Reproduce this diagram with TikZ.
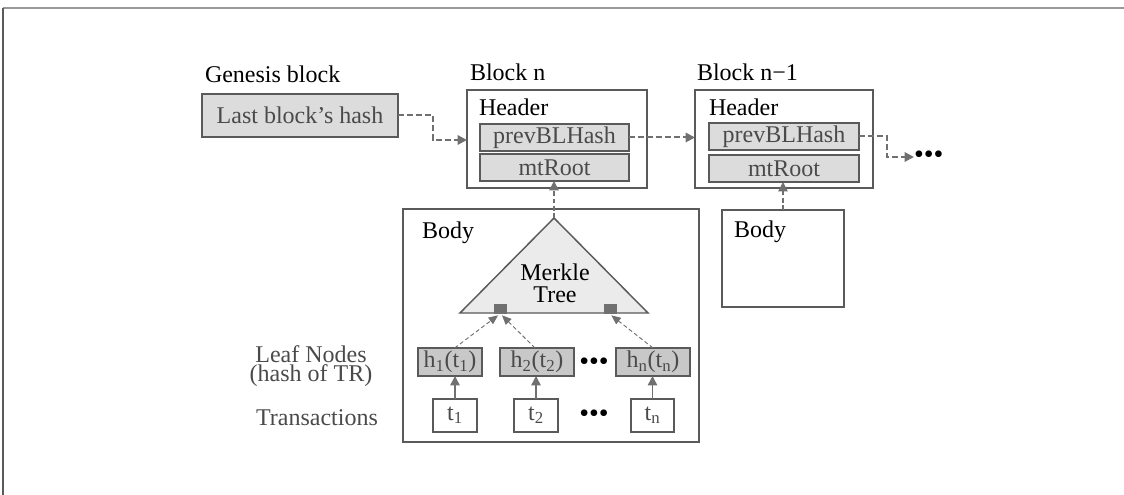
\documentclass[tikz,border=0pt]{standalone}
\usepackage{fontspec}
\setmainfont{Liberation Serif}
\usetikzlibrary{arrows.meta,calc}
\definecolor{edgegray}{HTML}{5A5A5A}
\definecolor{arrowgray}{HTML}{707070}
\definecolor{txtgray}{HTML}{4A4A4A}
\definecolor{boxfill}{HTML}{DCDCDC}
\definecolor{leaffill}{HTML}{C8C8C8}
\definecolor{trifill}{HTML}{EBEBEB}
\tikzset{
  every node/.style={inner sep=0pt, outer sep=0pt},
  basefont/.style={font=\fontsize{18}{18}\selectfont},
  title/.style={basefont, text=black},
  graybox/.style={draw=edgegray, line width=1.1pt, fill=boxfill, basefont, text=txtgray},
  leafbox/.style={draw=edgegray, line width=1.1pt, fill=leaffill, basefont, text=txtgray, minimum height=28*0.75pt},
  trbox/.style={draw=edgegray, line width=1.1pt, fill=white, basefont, text=txtgray, minimum height=33*0.75pt},
  frame/.style={draw=edgegray, line width=1.1pt},
  sidelabel/.style={basefont, text=txtgray, align=center},
  dotsnode/.style={font=\fontsize{21}{21}\selectfont, text=black},
  chain/.style={draw=arrowgray, line width=1.5pt, dash pattern=on 4.5pt off 2.2pt, -{Triangle[length=7pt,width=7pt]}},
  uparrow/.style={draw=arrowgray, line width=1.1pt, dash pattern=on 3.5pt off 2pt, -{Triangle[length=7pt,width=7pt]}},
  treearrow/.style={draw=arrowgray, line width=0.7pt, dash pattern=on 3pt off 2pt, -{Triangle[length=7pt,width=6pt]}},
  solidarrow/.style={draw=arrowgray, line width=1.1pt, -{Triangle[length=7pt,width=7pt]}},
  sq/.style={fill=arrowgray, minimum width=13*0.75pt, minimum height=10*0.75pt}
}
\begin{document}
\begin{tikzpicture}[x=0.75pt,y=-0.75pt]
\useasboundingbox (0,0) rectangle (1124,495);
% outer frame fragments
\draw[draw=gray!80, line width=1.5pt] (3,8) -- (1124,8);
\draw[draw=edgegray, line width=1pt] (3,8) -- (3,495);

% titles
\node[title, anchor=base west] (gen) at (205,83) {Genesis block};
\node[title, anchor=base west] (bn) at (470,81) {Block n};
\node[title, anchor=base west] (bn1) at (697,81) {Block n−1};

% genesis hash
\node[graybox, minimum width=196*0.75pt, minimum height=43*0.75pt] (lbh) at (300,115.5) {Last block’s hash};

% Block n header
\node[frame, fill=white, minimum width=180*0.75pt, minimum height=98*0.75pt] (hdrN) at (557,139) {};
\node[title, anchor=base west] (hN) at (479,116) {Header};
\node[graybox, minimum width=149*0.75pt, minimum height=27*0.75pt] (prevN) at (554.5,137.5) {prevBLHash};
\node[graybox, minimum width=149*0.75pt, minimum height=27*0.75pt] (mtN) at (554.5,167.5) {mtRoot};

% Block n-1 header
\node[frame, fill=white, minimum width=178*0.75pt, minimum height=98*0.75pt] (hdrN1) at (784,139) {};
\node[title, anchor=base west] (hN1) at (709,116) {Header};
\node[graybox, minimum width=150*0.75pt, minimum height=27*0.75pt] (prevN1) at (784,136.5) {prevBLHash};
\node[graybox, minimum width=150*0.75pt, minimum height=27*0.75pt] (mtN1) at (784,168.5) {mtRoot};
\node[dotsnode, anchor=west] (dots1) at (914,157) {•••};

% Block n-1 body
\node[frame, fill=white, minimum width=122*0.75pt, minimum height=97*0.75pt] (bodyN1) at (783,258.5) {};
\node[title, anchor=base west] (bdN1) at (734,238) {Body};

% Block n body
\node[frame, fill=white, minimum width=296*0.75pt, minimum height=233*0.75pt] (bodyN) at (551,325.5) {};
\node[title, anchor=base west] (bdN) at (422,239) {Body};

% Merkle tree
\coordinate (apex) at (554,218);
\draw[draw=edgegray, line width=1.1pt, fill=trifill] (460,313) -- (648,313) -- (apex) -- cycle;
\node[title, align=center, font=\fontsize{18}{16.5}\selectfont] (mt) at (555,283) {Merkle\\Tree};
\node[sq] (sqL) at (500,309) {};
\node[sq] (sqR) at (610,309) {};

% leaf nodes
\node[leafbox, minimum width=64*0.75pt] (h1) at (450,362) {h\textsubscript{1}(t\textsubscript{1})};
\node[leafbox, minimum width=74*0.75pt] (h2) at (537,362) {h\textsubscript{2}(t\textsubscript{2})};
\node[leafbox, minimum width=74*0.75pt] (hn) at (653,362) {h\textsubscript{n}(t\textsubscript{n})};
\node[dotsnode] (dotsh) at (594,364) {•••};

% transactions
\node[trbox, minimum width=44*0.75pt] (t1) at (455,415.5) {t\textsubscript{1}};
\node[trbox, minimum width=44*0.75pt] (t2) at (536,415.5) {t\textsubscript{2}};
\node[trbox, minimum width=43*0.75pt] (tn) at (652.5,415.5) {t\textsubscript{n}};
\node[dotsnode] (dotst) at (594,416) {•••};

% side labels
\node[sidelabel, font=\fontsize{18}{14.5}\selectfont] (leafl) at (311,366) {Leaf Nodes\\(hash of TR)};
\node[sidelabel] (trl) at (317,418) {Transactions};

% chain arrows
\coordinate (c1) at (433,140);
\draw[chain] (lbh.east) -| (c1) -- (c1 -| hdrN.west);
\draw[chain] (prevN.east) -- (prevN.east -| hdrN1.west);
\coordinate (c2) at (887,157);
\draw[chain] (prevN1.east) -| (c2) -- (dots1.west);

% body to mtRoot
\draw[uparrow] (apex) -- (apex |- mtN.south);
\draw[uparrow] (bodyN1.north) -- (bodyN1.north |- mtN1.south);

% tree arrows
\draw[treearrow] ([xshift=3.5pt]h1.north) -- ([xshift=-1.5pt,yshift=-1pt]sqL.south);
\draw[treearrow] ([xshift=-1.5pt]h2.north) -- ([xshift=1.5pt,yshift=-1pt]sqL.south);
\draw[treearrow] (hn.north) -- ([xshift=1pt,yshift=-1pt]sqR.south);

% transaction to leaf
\draw[solidarrow] (t1.north) -- (t1.north |- h1.south);
\draw[solidarrow] (t2.north) -- (t2.north |- h2.south);
\draw[solidarrow] (tn.north) -- (tn.north |- hn.south);
\end{tikzpicture}
\end{document}
